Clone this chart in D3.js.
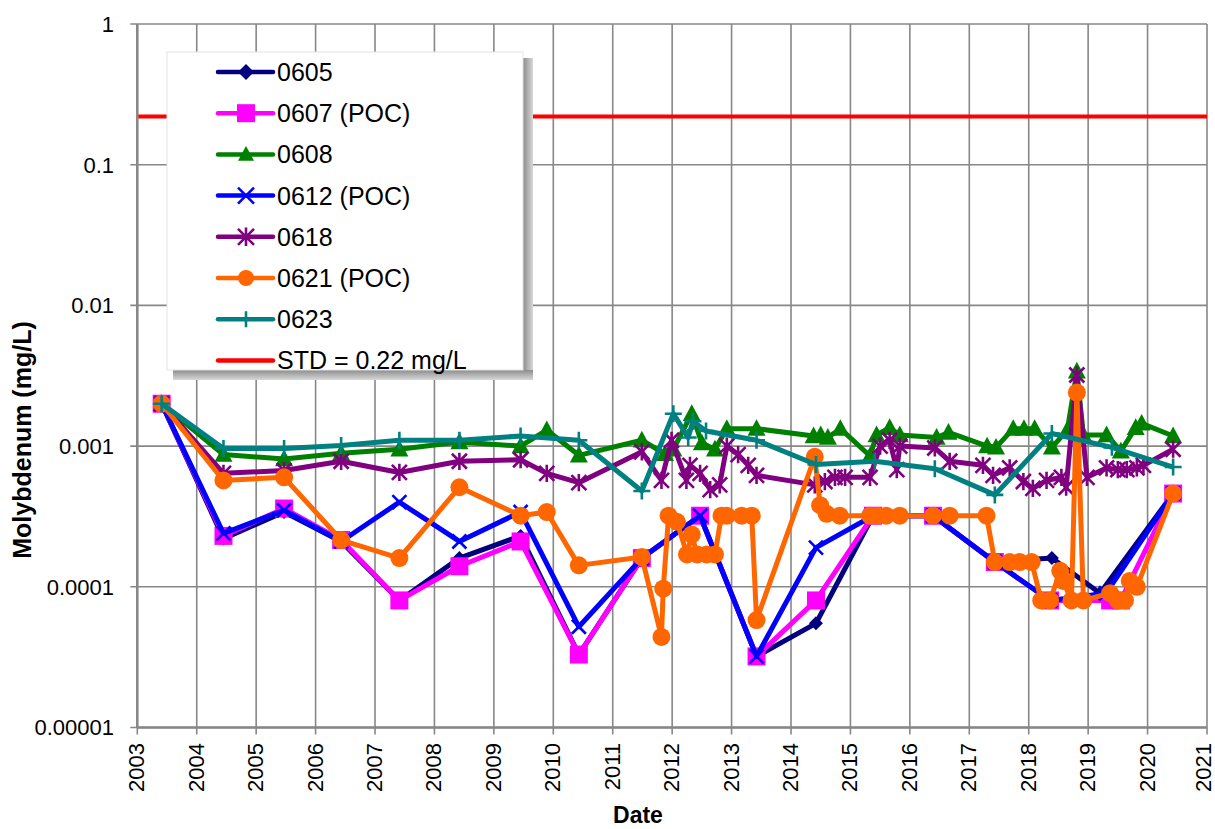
<!DOCTYPE html>
<html>
<head>
<meta charset="utf-8">
<script src="https://cdn.jsdelivr.net/npm/d3@7"></script>
<style>
  body { margin: 0; background: #fff; }
  text { font-family: Arial, "Liberation Sans", sans-serif; fill: #000; }
</style>
</head>
<body>
<div id="chart"></div>
<script>
// decimal years + Mo (mg/L) per well
var dates0605 = [2003.41, 2004.45, 2005.47, 2006.43, 2007.41, 2008.42, 2009.45, 2010.43, 2011.49, 2012.47, 2013.42, 2014.42, 2015.38, 2016.39, 2017.43, 2018.39, 2019.2, 2020.43];
var mo0605    = [0.002, 0.00022, 0.00034, 0.00021, 0.00008, 0.00016, 0.00023, 0.000033, 0.00016, 0.00032, 0.000032, 0.000055, 0.00032, 0.00032, 0.00015, 0.00016, 0.00009, 0.00046];

var dates0607 = [2003.41, 2004.45, 2005.47, 2006.43, 2007.41, 2008.42, 2009.45, 2010.43, 2011.49, 2012.47, 2013.42, 2014.42, 2015.38, 2016.39, 2017.43, 2018.36, 2019.37, 2019.55, 2020.43];
var mo0607    = [0.002, 0.00023, 0.00036, 0.000215, 0.00008, 0.00014, 0.00021, 0.000033, 0.00016, 0.00032, 0.000032, 0.00008, 0.00032, 0.00032, 0.00015, 0.00008, 0.00008, 0.00008, 0.00046];

var dates0608 = [2003.41, 2004.45, 2005.47, 2006.43, 2007.41, 2008.42, 2009.45, 2009.89, 2010.43, 2011.49, 2011.88, 2012.02, 2012.33, 2012.5, 2012.72, 2012.92, 2013.42, 2014.38, 2014.5, 2014.62, 2014.83, 2015.33, 2015.44, 2015.66, 2015.83, 2016.45, 2016.65, 2017.3, 2017.45, 2017.74, 2017.92, 2018.1, 2018.39, 2018.65, 2018.81, 2018.92, 2019.31, 2019.55, 2019.8, 2019.9, 2020.43];
var mo0608    = [0.002, 0.00087, 0.00081, 0.00089, 0.00095, 0.00107, 0.001, 0.0013, 0.00086, 0.0011, 0.00088, 0.00095, 0.0017, 0.00105, 0.00095, 0.00133, 0.00133, 0.00118, 0.0012, 0.00115, 0.00133, 0.00085, 0.0012, 0.00135, 0.0012, 0.00115, 0.00125, 0.001, 0.00098, 0.00133, 0.00133, 0.00133, 0.00098, 0.0013, 0.0034, 0.0012, 0.0012, 0.00092, 0.00135, 0.00145, 0.00118];

var dates0612 = [2003.41, 2004.45, 2005.47, 2006.43, 2007.41, 2008.42, 2009.45, 2010.43, 2011.49, 2012.47, 2013.42, 2014.42, 2015.38, 2016.39, 2017.43, 2018.36, 2019.3, 2020.43];
var mo0612    = [0.002, 0.00024, 0.00035, 0.00021, 0.0004, 0.00021, 0.00034, 0.000052, 0.00016, 0.00032, 0.000032, 0.00019, 0.00032, 0.00032, 0.00015, 0.00008, 0.00009, 0.00046];

var dates0618 = [2003.41, 2004.45, 2005.47, 2006.43, 2007.41, 2008.42, 2009.45, 2009.89, 2010.43, 2011.49, 2011.82, 2011.99, 2012.24, 2012.3, 2012.47, 2012.64, 2012.8, 2012.92, 2013.11, 2013.28, 2013.42, 2014.4, 2014.57, 2014.74, 2014.91, 2015.33, 2015.5, 2015.66, 2015.78, 2015.83, 2016.42, 2016.67, 2017.23, 2017.4, 2017.68, 2017.91, 2018.07, 2018.3, 2018.55, 2018.63, 2018.81, 2018.98, 2019.31, 2019.5, 2019.65, 2019.82, 2019.93, 2020.43];
var mo0618    = [0.002, 0.00064, 0.00067, 0.00078, 0.00065, 0.00078, 0.0008, 0.00064, 0.00055, 0.00091, 0.00057, 0.0011, 0.00057, 0.00073, 0.00064, 0.00049, 0.00053, 0.001, 0.00087, 0.00073, 0.00062, 0.00053, 0.00056, 0.0006, 0.0006, 0.0006, 0.001, 0.0011, 0.00068, 0.001, 0.00097, 0.00078, 0.00073, 0.00062, 0.0007, 0.00056, 0.0005, 0.00057, 0.0006, 0.00051, 0.0032, 0.0006, 0.0007, 0.00068, 0.00068, 0.0007, 0.00073, 0.00095];

var dates0621 = [2003.41, 2004.45, 2005.47, 2006.43, 2007.41, 2008.42, 2009.45, 2009.89, 2010.43, 2011.49, 2011.82, 2011.85, 2011.94, 2012.08, 2012.25, 2012.33, 2012.42, 2012.58, 2012.72, 2012.83, 2012.92, 2013.17, 2013.34, 2013.42, 2014.4, 2014.49, 2014.6, 2014.82, 2015.33, 2015.45, 2015.6, 2015.83, 2016.39, 2016.67, 2017.29, 2017.43, 2017.68, 2017.85, 2018.05, 2018.21, 2018.36, 2018.53, 2018.58, 2018.72, 2018.81, 2018.92, 2019.37, 2019.5, 2019.62, 2019.7, 2019.82, 2020.43];
var mo0621    = [0.002, 0.00057, 0.0006, 0.000215, 0.00016, 0.00051, 0.00032, 0.00034, 0.000142, 0.000163, 0.000044, 0.000097, 0.00032, 0.00029, 0.00017, 0.000235, 0.00017, 0.00017, 0.00017, 0.00032, 0.00032, 0.00032, 0.00032, 0.000058, 0.00084, 0.00038, 0.00033, 0.00032, 0.00032, 0.00032, 0.00032, 0.00032, 0.00032, 0.00032, 0.00032, 0.00015, 0.00015, 0.00015, 0.00015, 0.00008, 0.00008, 0.00013, 0.00011, 0.00008, 0.0024, 0.00008, 0.00009, 0.00008, 0.00008, 0.00011, 0.0001, 0.00046];

var dates0623 = [2003.41, 2004.45, 2005.47, 2006.43, 2007.41, 2008.42, 2009.45, 2010.43, 2011.49, 2012.02, 2012.27, 2012.35, 2012.57, 2013.42, 2014.42, 2015.41, 2016.42, 2017.43, 2018.39, 2019.4, 2020.43];
var mo0623    = [0.002, 0.00096, 0.00096, 0.00101, 0.0011, 0.0011, 0.00118, 0.0011, 0.00048, 0.0017, 0.00115, 0.0015, 0.00128, 0.0011, 0.00074, 0.00078, 0.00069, 0.00045, 0.00123, 0.00098, 0.00071];

var seriesNames  = ["0605", "0607 (POC)", "0608", "0612 (POC)", "0618", "0621 (POC)", "0623"];
var seriesColors = ["#000080", "#ff00ff", "#008000", "#0000ff", "#800080", "#ff6600", "#008080"];
var seriesMarks  = ["diamond", "square", "triangle", "cross", "star", "circle", "plus"];
var stdValue = 0.22;
var stdLabel = "STD = 0.22 mg/L";
var yearTicks = d3.range(2003, 2022);
var yTicks = [1, 0.1, 0.01, 0.001, 0.0001, 0.00001];
var yTickLabels = ["1", "0.1", "0.01", "0.001", "0.0001", "0.00001"];

var allDates = [dates0605, dates0607, dates0608, dates0612, dates0618, dates0621, dates0623];
var allVals  = [mo0605, mo0607, mo0608, mo0612, mo0618, mo0621, mo0623];

var series = seriesNames.map(function(n, i) {
  return {
    name: n, color: seriesColors[i], mark: seriesMarks[i],
    pts: allDates[i].map(function(d, j) { return {x: d, y: allVals[i][j]}; })
  };
});

var w = 1215, h = 829;
var svg = d3.select("#chart").append("svg")
  .attr("width", w).attr("height", h)
  .attr("xmlns", "http://www.w3.org/2000/svg");

var x = d3.scaleLinear().domain([2003, 2021]).range([137.3, 1207]);
var y = d3.scaleLog().domain([0.00001, 1]).range([727.5, 24]);

var grid = "#878787";

// vertical grid
svg.append("g").selectAll("line").data(yearTicks).enter().append("line")
  .attr("x1", function(d) { return x(d); }).attr("x2", function(d) { return x(d); })
  .attr("y1", y(1)).attr("y2", y(0.00001) + 7)
  .attr("stroke", grid).attr("stroke-width", 1.6);

// horizontal grid
svg.append("g").selectAll("line").data(yTicks).enter().append("line")
  .attr("x1", x(2003) - 7).attr("x2", x(2021))
  .attr("y1", function(d) { return y(d); }).attr("y2", function(d) { return y(d); })
  .attr("stroke", grid).attr("stroke-width", 1.6);

// axis lines
svg.append("line").attr("x1", x(2003)).attr("x2", x(2003)).attr("y1", y(1)).attr("y2", y(0.00001))
  .attr("stroke", grid).attr("stroke-width", 2.5);
svg.append("line").attr("x1", x(2003)).attr("x2", x(2021)).attr("y1", y(0.00001)).attr("y2", y(0.00001))
  .attr("stroke", grid).attr("stroke-width", 2.5);

// y tick labels
svg.append("g").selectAll("text").data(yTicks).enter().append("text")
  .attr("x", 114).attr("y", function(d) { return y(d); })
  .attr("dy", "0.36em")
  .attr("text-anchor", "end")
  .style("font-size", "22px")
  .text(function(d, i) { return yTickLabels[i]; });

// x tick labels (rotated); last one nudged so it stays inside the frame
svg.append("g").selectAll("text").data(yearTicks).enter().append("text")
  .attr("transform", function(d) {
    var bx = Math.min(x(d) + 7, w - 4);
    return "translate(" + bx + ",743) rotate(-90)";
  })
  .attr("text-anchor", "end")
  .style("font-size", "22px")
  .text(function(d) { return d; });

// axis titles
svg.append("text")
  .attr("transform", "translate(31,440) rotate(-90)")
  .attr("text-anchor", "middle")
  .style("font-size", "25px").style("font-weight", "bold")
  .text("Molybdenum (mg/L)");
svg.append("text")
  .attr("x", 638).attr("y", 823)
  .attr("text-anchor", "middle")
  .style("font-size", "23px").style("font-weight", "bold")
  .text("Date");

// standard line
svg.append("line")
  .attr("x1", x(2003) + 1).attr("x2", x(2021))
  .attr("y1", y(stdValue)).attr("y2", y(stdValue))
  .attr("stroke", "#ff0000").attr("stroke-width", 4);

function markPath(type, s) {
  var r = s / 2;
  switch (type) {
    case "diamond": return "M0," + (-r) + "L" + r + ",0L0," + r + "L" + (-r) + ",0Z";
    case "square": return "M" + (-r) + "," + (-r) + "h" + s + "v" + s + "h" + (-s) + "Z";
    case "triangle": return "M0," + (-r * 1.05) + "L" + r + "," + (r * 0.8) + "L" + (-r) + "," + (r * 0.8) + "Z";
    case "circle": return d3.symbol(d3.symbolCircle, Math.PI * r * r)();
    case "cross": return "M" + (-r) + "," + (-r) + "L" + r + "," + r + "M" + (-r) + "," + r + "L" + r + "," + (-r);
    case "star": return "M" + (-r) + "," + (-r) + "L" + r + "," + r + "M" + (-r) + "," + r + "L" + r + "," + (-r) + "M0," + (-r * 1.15) + "V" + (r * 1.15);
    case "plus": return "M" + (-r) + ",0H" + r + "M0," + (-r) + "V" + r;
  }
}
var markSize = {diamond: 14, square: 18, triangle: 18, circle: 18, cross: 14, star: 15, plus: 17};
var strokeMarks = {cross: 1, star: 1, plus: 1};

function drawMark(sel, type, color, s) {
  var p = sel.append("path").attr("d", markPath(type, s || markSize[type]));
  if (strokeMarks[type]) p.attr("fill", "none").attr("stroke", color).attr("stroke-width", 2.6);
  else p.attr("fill", color);
  return p;
}

var line = d3.line()
  .x(function(d) { return x(d.x); })
  .y(function(d) { return y(d.y); });

series.forEach(function(s) {
  var g = svg.append("g");
  g.append("path").datum(s.pts)
    .attr("d", line)
    .attr("fill", "none").attr("stroke", s.color)
    .attr("stroke-width", 5).attr("stroke-linejoin", "round");
  s.pts.forEach(function(p) {
    var m = g.append("g").attr("transform", "translate(" + x(p.x) + "," + y(p.y) + ")");
    drawMark(m, s.mark, s.color);
  });
});

// legend with shadow
var lx = 167, ly = 52, lw = 356, lh = 318;
var defs = svg.append("defs");
var gr = defs.append("linearGradient").attr("id", "shR").attr("x1", 0).attr("x2", 1).attr("y1", 0).attr("y2", 0);
gr.append("stop").attr("offset", "0%").attr("stop-color", "#8c8c8c");
gr.append("stop").attr("offset", "100%").attr("stop-color", "#d8d8d8");
var gb = defs.append("linearGradient").attr("id", "shB").attr("x1", 0).attr("x2", 0).attr("y1", 0).attr("y2", 1);
gb.append("stop").attr("offset", "0%").attr("stop-color", "#8c8c8c");
gb.append("stop").attr("offset", "100%").attr("stop-color", "#d8d8d8");
svg.append("rect").attr("x", lx + lw).attr("y", ly + 6).attr("width", 10).attr("height", lh + 4).attr("fill", "url(#shR)");
svg.append("rect").attr("x", lx + 6).attr("y", ly + lh).attr("width", lw + 4).attr("height", 10).attr("fill", "url(#shB)");
svg.append("rect").attr("x", lx).attr("y", ly).attr("width", lw).attr("height", lh)
  .attr("fill", "#fff").attr("stroke", "#e4e4e4").attr("stroke-width", 1);

var legendItems = series.map(function(s) { return {name: s.name, color: s.color, mark: s.mark}; });
legendItems.push({name: stdLabel, color: "#ff0000", mark: null});

var leg = svg.append("g").selectAll("g").data(legendItems).enter().append("g")
  .attr("transform", function(d, i) { return "translate(0," + (72 + i * 41.2) + ")"; });
leg.append("line").attr("x1", 218).attr("x2", 273).attr("y1", 0).attr("y2", 0)
  .attr("stroke", function(d) { return d.color; }).attr("stroke-width", 4.5).attr("stroke-linecap", "round");
leg.each(function(d) {
  if (d.mark) {
    var m = d3.select(this).append("g").attr("transform", "translate(246,0)");
    drawMark(m, d.mark, d.color, d.mark === "square" ? 18 : 16);
  }
});
leg.append("text").attr("x", 277).attr("dy", "0.36em")
  .style("font-size", "25px")
  .text(function(d) { return d.name; });
</script>
</body>
</html>
